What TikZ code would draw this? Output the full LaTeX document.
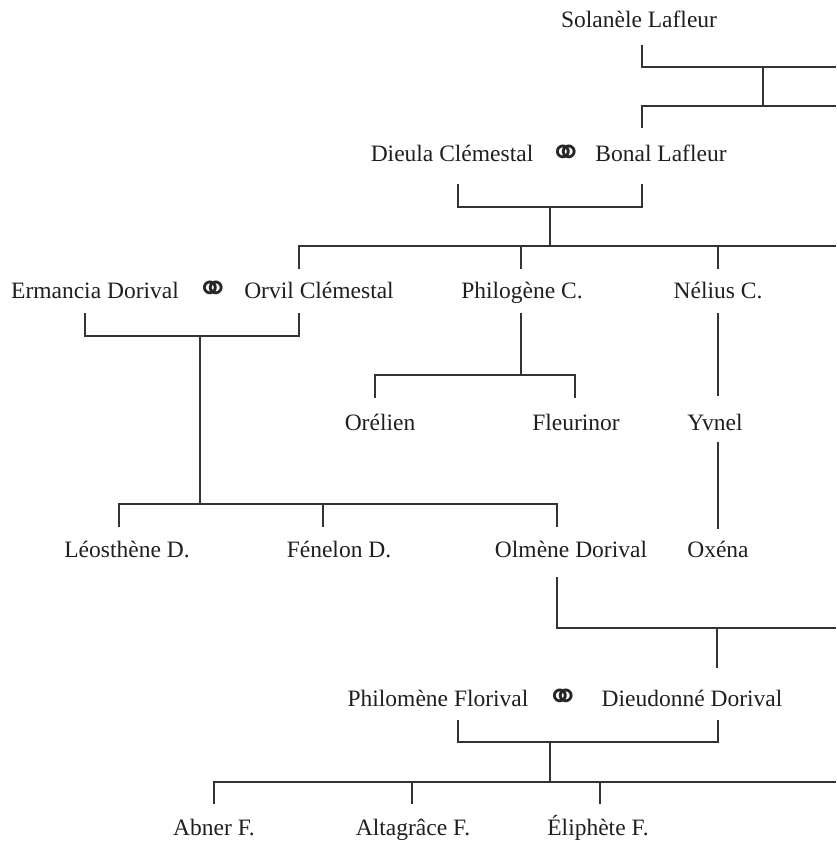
\documentclass[tikz,border=0pt]{standalone}
\usepackage{fontspec}
\setmainfont{Liberation Serif}
\newfontfamily\symfont{DejaVu Sans}
\begin{document}
\begin{tikzpicture}[x=1pt,y={(0pt,-1pt)},
  person/.style={anchor=base,inner sep=0pt,text=black!88,font=\fontsize{23.5}{26}\selectfont},
  marry/.style={anchor=center,inner sep=0pt,text=black!85,font=\symfont\fontsize{40}{44}\selectfont},
  link/.style={draw=black!80,line width=1.2pt,line cap=butt,line join=miter}]
\useasboundingbox (0,0) rectangle (836,842);
% people
\node[person] (sol) at (639,28) {Solanèle Lafleur};
\node[person] (die) at (452,162) {Dieula Clémestal};
\node[marry] (m1) at (566,155.5) {⚭};
\node[person] (bon) at (661,162) {Bonal Lafleur};
\node[person] (erm) at (95,298) {Ermancia Dorival};
\node[marry] (m2) at (213,291.5) {⚭};
\node[person] (orv) at (319,298) {Orvil Clémestal};
\node[person] (phg) at (522,298) {Philogène C.};
\node[person] (nel) at (718,298) {Nélius C.};
\node[person] (ore) at (380,430) {Orélien};
\node[person] (fle) at (576,430) {Fleurinor};
\node[person] (yvn) at (715,430) {Yvnel};
\node[person] (leo) at (127,557) {Léosthène D.};
\node[person] (fen) at (339,557) {Fénelon D.};
\node[person] (olm) at (571,557) {Olmène Dorival};
\node[person] (oxe) at (718,557) {Oxéna};
\node[person] (phm) at (438,706) {Philomène Florival};
\node[marry] (m3) at (563,699.5) {⚭};
\node[person] (dieu) at (692,706) {Dieudonné Dorival};
\node[person] (abn) at (214,835) {Abner F.};
\node[person] (alt) at (413,835) {Altagrâce F.};
\node[person] (eli) at (598,835) {Éliphète F.};
% junction coordinates
\coordinate (a1) at (642,45);  \coordinate (a2) at (642,67);  \coordinate (a3) at (836,67);
\coordinate (a4) at (763,67);  \coordinate (a5) at (763,106); \coordinate (a6) at (642,106);
\coordinate (a7) at (836,106); \coordinate (a8) at (642,128);
\coordinate (b1) at (458,184); \coordinate (b2) at (458,207); \coordinate (b3) at (642,207);
\coordinate (b4) at (642,184); \coordinate (b5) at (550,207); \coordinate (b6) at (550,246);
\coordinate (b7) at (299,246); \coordinate (b8) at (836,246);
\coordinate (c1) at (299,269); \coordinate (c2) at (521,246); \coordinate (c3) at (521,269);
\coordinate (c4) at (718,246); \coordinate (c5) at (718,269);
\coordinate (d1) at (85,313);  \coordinate (d2) at (85,336);  \coordinate (d3) at (299,336);
\coordinate (d4) at (299,313); \coordinate (d5) at (200,336); \coordinate (d6) at (200,504);
\coordinate (d7) at (119,504); \coordinate (d8) at (557,504);
\coordinate (e1) at (119,527); \coordinate (e2) at (323,504); \coordinate (e3) at (323,527);
\coordinate (e4) at (557,527);
\coordinate (f1) at (521,313); \coordinate (f2) at (521,375); \coordinate (f3) at (375,375);
\coordinate (f4) at (575,375); \coordinate (f5) at (375,398); \coordinate (f6) at (575,398);
\coordinate (g1) at (718,313); \coordinate (g2) at (718,396); \coordinate (g3) at (718,442);
\coordinate (g4) at (718,529);
\coordinate (h1) at (557,577); \coordinate (h2) at (557,628); \coordinate (h3) at (836,628);
\coordinate (h4) at (717,628); \coordinate (h5) at (717,668);
\coordinate (i1) at (458,720); \coordinate (i2) at (458,742); \coordinate (i3) at (718,742);
\coordinate (i4) at (718,720); \coordinate (i5) at (550,742); \coordinate (i6) at (550,782);
\coordinate (i7) at (214,782); \coordinate (i8) at (836,782);
\coordinate (j1) at (214,804); \coordinate (j2) at (412,782); \coordinate (j3) at (412,804);
\coordinate (j4) at (600,782); \coordinate (j5) at (600,804);
% connectors
\draw[link] (a1) -- (a2) -- (a3);
\draw[link] (a4) -- (a5);
\draw[link] (a8) -- (a6) -- (a7);
\draw[link] (b1) -- (b2) -- (b3) -- (b4);
\draw[link] (b5) -- (b6);
\draw[link] (c1) -- (b7) -- (b8);
\draw[link] (c2) -- (c3);
\draw[link] (c4) -- (c5);
\draw[link] (d1) -- (d2) -- (d3) -- (d4);
\draw[link] (d5) -- (d6);
\draw[link] (e1) -- (d7) -- (d8) -- (e4);
\draw[link] (e2) -- (e3);
\draw[link] (f1) -- (f2);
\draw[link] (f5) -- (f3) -- (f4) -- (f6);
\draw[link] (g1) -- (g2);
\draw[link] (g3) -- (g4);
\draw[link] (h1) -- (h2) -- (h3);
\draw[link] (h4) -- (h5);
\draw[link] (i1) -- (i2) -- (i3) -- (i4);
\draw[link] (i5) -- (i6);
\draw[link] (j1) -- (i7) -- (i8);
\draw[link] (j2) -- (j3);
\draw[link] (j4) -- (j5);
\end{tikzpicture}
\end{document}
